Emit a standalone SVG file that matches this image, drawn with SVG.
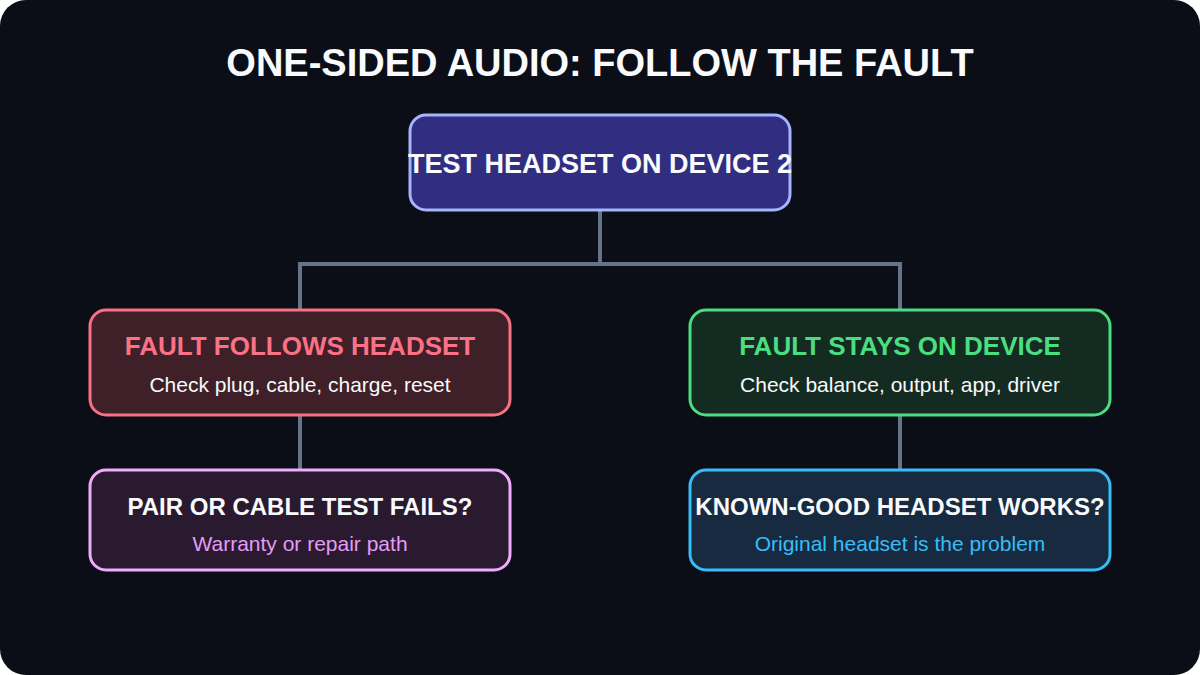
<svg xmlns="http://www.w3.org/2000/svg" width="1200" height="675" viewBox="0 0 1200 675">
<style>
.title{font-family:"Liberation Sans",Arial,sans-serif;font-weight:bold;font-size:38px;fill:#f8fafc;text-anchor:middle}
.h{font-family:"Liberation Sans",Arial,sans-serif;font-weight:bold;font-size:26px;text-anchor:middle}
.h0{font-family:"Liberation Sans",Arial,sans-serif;font-weight:bold;font-size:27px;text-anchor:middle}
.h2{font-family:"Liberation Sans",Arial,sans-serif;font-weight:bold;font-size:24px;text-anchor:middle;fill:#f8fafc}
.s{font-family:"Liberation Sans",Arial,sans-serif;font-size:21px;text-anchor:middle}
.box{stroke-width:3}
.conn{stroke:#64748b;stroke-width:4;fill:none}
</style>
<rect x="0" y="0" width="1200" height="675" fill="#ffffff"/>
<rect x="0" y="0" width="1200" height="675" rx="26" fill="#0b0e17"/>
<text class="title" x="600" y="76">ONE-SIDED AUDIO: FOLLOW THE FAULT</text>
<g id="connectors">
<path class="conn" d="M600 210 V264 M300 264 H900 M300 262 V310 M900 262 V310"/>
<path class="conn" d="M300 415 V470"/>
<path class="conn" d="M900 415 V470"/>
</g>
<g id="node-test">
<rect class="box" x="410" y="115" width="380" height="95" rx="16" fill="#312e81" stroke="#a5b4fc"/>
<text class="h0" x="600" y="173" fill="#f8fafc">TEST HEADSET ON DEVICE 2</text>
</g>
<g id="node-headset">
<rect class="box" x="90" y="310" width="420" height="105" rx="16" fill="#3f1f28" stroke="#f87184"/>
<text class="h" x="300" y="355" fill="#fb7185">FAULT FOLLOWS HEADSET</text>
<text class="s" x="300" y="392" fill="#f8fafc">Check plug, cable, charge, reset</text>
</g>
<g id="node-device">
<rect class="box" x="690" y="310" width="420" height="105" rx="16" fill="#142b22" stroke="#4ade80"/>
<text class="h" x="900" y="355" fill="#4ade80">FAULT STAYS ON DEVICE</text>
<text class="s" x="900" y="392" fill="#f8fafc">Check balance, output, app, driver</text>
</g>
<g id="node-pair">
<rect class="box" x="90" y="470" width="420" height="100" rx="16" fill="#2a1a2f" stroke="#f0abfc"/>
<text class="h2" x="300" y="515">PAIR OR CABLE TEST FAILS?</text>
<text class="s" x="300" y="551" fill="#e49cf4">Warranty or repair path</text>
</g>
<g id="node-known">
<rect class="box" x="690" y="470" width="420" height="100" rx="16" fill="#172a40" stroke="#38bdf8"/>
<text class="h2" x="900" y="515">KNOWN-GOOD HEADSET WORKS?</text>
<text class="s" x="900" y="551" fill="#38bdf8">Original headset is the problem</text>
</g>
</svg>
